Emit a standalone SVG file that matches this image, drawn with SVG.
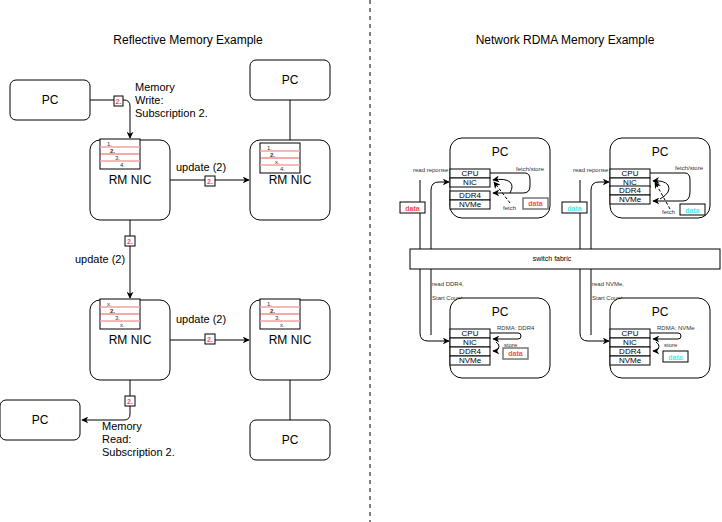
<svg xmlns="http://www.w3.org/2000/svg" width="722" height="522" viewBox="0 0 722 522">
<style>
text{font-family:"Liberation Sans",Arial,sans-serif;fill:#000}
.b{fill:#fff;stroke:#000;stroke-width:1}
.l{fill:none;stroke:#000;stroke-width:1}
.p{stroke:#f4a0a0;stroke-width:1.5}
.pr{stroke:#e85050;stroke-width:1}
.t12{font-size:12px}
.t11{font-size:11px}
.s{font-size:6px;fill:#333}
.c{font-size:8px}
.tag{fill:#fff;stroke:#000}
.tagt{font-size:7px;font-weight:bold;fill:#ff4d4d}
</style>
<defs>
<marker id="a" viewBox="0 0 10 10" refX="9" refY="5" markerWidth="7" markerHeight="7" orient="auto"><path d="M0,0L10,5L0,10L3,5z" fill="#000"/></marker>
</defs>
<line x1="370" y1="0" x2="370" y2="522" stroke="#000" stroke-dasharray="4,4"/>
<text x="188" y="44" text-anchor="middle" class="t12">Reflective Memory Example</text>
<text x="565" y="44" text-anchor="middle" class="t12">Network RDMA Memory Example</text>

<g id="connectors">
<path class="l" d="M90,100H124Q130,100 130,106V138" marker-end="url(#a)"/>
<path class="l" d="M170,180H249" marker-end="url(#a)"/>
<path class="l" d="M130,220V298" marker-end="url(#a)"/>
<path class="l" d="M170,340H249" marker-end="url(#a)"/>
<path class="l" d="M130,380V414Q130,420 124,420H82" marker-end="url(#a)"/>
<line class="l" x1="290" y1="100" x2="290" y2="140"/>
<line class="l" x1="290" y1="380" x2="290" y2="420"/>
<rect class="tag" x="114" y="96" width="9" height="10"/><text x="118.5" y="104" text-anchor="middle" class="tagt">2.</text>
<rect class="tag" x="205" y="176" width="10" height="10"/><text x="210" y="184" text-anchor="middle" class="tagt">2.</text>
<rect class="tag" x="125" y="236" width="10" height="10"/><text x="130" y="244" text-anchor="middle" class="tagt">2.</text>
<rect class="tag" x="205" y="334" width="10" height="10"/><text x="210" y="342" text-anchor="middle" class="tagt">2.</text>
<rect class="tag" x="125" y="396" width="10" height="10"/><text x="130" y="404" text-anchor="middle" class="tagt">2.</text>
<text x="135" y="91" class="t11">Memory</text><text x="135" y="104" class="t11">Write:</text><text x="135" y="117" class="t11">Subscription 2.</text>
<text x="176" y="171" class="t11">update (2)</text>
<text x="75" y="263" class="t11">update (2)</text>
<text x="176" y="323" class="t11">update (2)</text>
<text x="102" y="430" class="t11">Memory</text><text x="102" y="443" class="t11">Read:</text><text x="102" y="456" class="t11">Subscription 2.</text>

<!-- RDMA connectors -->
<path class="l" d="M431,335V190Q431,182 439,182H449" marker-end="url(#a)"/>
<path class="l" d="M420,180V333Q420,341 428,341H449" marker-end="url(#a)"/>
<path class="l" d="M591,335V190Q591,182 599,182H609" marker-end="url(#a)"/>
<path class="l" d="M580,180V333Q580,341 588,341H609" marker-end="url(#a)"/>
<text x="413" y="172" class="s">read reponse</text>
<text x="573" y="172" class="s">read reponse</text>
<text x="432" y="286" class="s">read DDR4,</text>
<text x="432" y="300" class="s">Start Count</text>
<text x="592" y="286" class="s">read NVMe,</text>
<text x="592" y="300" class="s">Start Count</text>
<rect x="400" y="202" width="25" height="11" class="tag"/><text x="412.5" y="210.5" text-anchor="middle" class="tagt">data</text>
<rect x="562" y="202" width="25" height="11" class="tag"/><text x="574.5" y="210.5" text-anchor="middle" class="tagt" style="fill:#4ee">data</text>
</g>

<g id="pc1"><rect class="b" x="10" y="80" width="80" height="40" rx="6"/><text x="50" y="104" text-anchor="middle" class="t12">PC</text></g>
<g id="pc2"><rect class="b" x="250" y="60" width="80" height="40" rx="6"/><text x="290" y="84" text-anchor="middle" class="t12">PC</text></g>
<g id="pc3"><rect class="b" x="0" y="400" width="80" height="40" rx="6"/><text x="40" y="424" text-anchor="middle" class="t12">PC</text></g>
<g id="pc4"><rect class="b" x="250" y="420" width="80" height="40" rx="6"/><text x="290" y="444" text-anchor="middle" class="t12">PC</text></g>

<g id="rm1"><rect class="b" x="90" y="140" width="80" height="80" rx="10"/>
<rect class="b" x="100" y="139" width="40" height="30"/>
<line class="p" x1="100" y1="147" x2="140" y2="147"/><line class="pr" x1="100" y1="154" x2="140" y2="154"/><line class="p" x1="100" y1="161" x2="140" y2="161"/>
<text x="107" y="146" class="s">1.</text><text x="110" y="153" class="s" style="font-weight:bold">2.</text><text x="115" y="160" class="s">3.</text><text x="120" y="167" class="s">4.</text>
<text x="130" y="184" text-anchor="middle" class="t12">RM NIC</text></g>
<g id="rm2"><rect class="b" x="250" y="140" width="80" height="80" rx="10"/>
<rect class="b" x="260" y="143" width="40" height="30"/>
<line class="p" x1="260" y1="151" x2="300" y2="151"/><line class="pr" x1="260" y1="158" x2="300" y2="158"/><line class="p" x1="260" y1="165" x2="300" y2="165"/>
<text x="267" y="150" class="s">1.</text><text x="270" y="157" class="s" style="font-weight:bold">2.</text><text x="275" y="164" class="s">x.</text><text x="280" y="171" class="s">4.</text>
<text x="290" y="184" text-anchor="middle" class="t12">RM NIC</text></g>
<g id="rm3"><rect class="b" x="90" y="300" width="80" height="80" rx="10"/>
<rect class="b" x="100" y="299" width="40" height="30"/>
<line class="p" x1="100" y1="307" x2="140" y2="307"/><line class="pr" x1="100" y1="314" x2="140" y2="314"/><line class="p" x1="100" y1="321" x2="140" y2="321"/>
<text x="107" y="306" class="s">x.</text><text x="110" y="313" class="s" style="font-weight:bold">2.</text><text x="115" y="320" class="s">3.</text><text x="120" y="327" class="s">x.</text>
<text x="130" y="344" text-anchor="middle" class="t12">RM NIC</text></g>
<g id="rm4"><rect class="b" x="250" y="300" width="80" height="80" rx="10"/>
<rect class="b" x="260" y="299" width="40" height="30"/>
<line class="p" x1="260" y1="307" x2="300" y2="307"/><line class="pr" x1="260" y1="314" x2="300" y2="314"/><line class="p" x1="260" y1="321" x2="300" y2="321"/>
<text x="267" y="306" class="s">1.</text><text x="270" y="313" class="s" style="font-weight:bold">2.</text><text x="275" y="320" class="s">3.</text><text x="280" y="327" class="s">x.</text>
<text x="290" y="344" text-anchor="middle" class="t12">RM NIC</text></g>

<g id="switch"><rect class="b" x="410" y="249" width="310" height="20"/><text x="552" y="261" text-anchor="middle" style="font-size:7px">switch fabric</text></g>

<g id="pcA"><rect class="b" x="450" y="138" width="100" height="80" rx="12"/><text x="500" y="156" text-anchor="middle" class="t12">PC</text>
<rect class="b" x="450" y="169" width="40" height="9"/><text x="470" y="176" text-anchor="middle" class="c">CPU</text>
<rect class="b" x="450" y="178" width="40" height="9"/><text x="470" y="185" text-anchor="middle" class="c">NIC</text>
<rect class="b" x="450" y="191" width="40" height="9"/><text x="470" y="198" text-anchor="middle" class="c">DDR4</text>
<rect class="b" x="450" y="200" width="40" height="9"/><text x="470" y="207" text-anchor="middle" class="c">NVMe</text>
<path class="l" d="M490,173H525Q530,173 530,180V186Q530,193 523,193H493" marker-end="url(#a)"/>
<path class="l" d="M510,193Q514,186 510,182Q505,178 493,180" marker-end="url(#a)"/>
<path class="l" d="M510,203L494,182" stroke-dasharray="3,2" marker-end="url(#a)"/>
<text x="516" y="171" class="s">fetch/store</text><text x="503" y="210" class="s">fetch</text>
<rect x="523" y="198" width="25" height="11" fill="#fff" stroke="#777" stroke-width="1.5"/><text x="535.5" y="206" text-anchor="middle" class="tagt">data</text></g>

<g id="pcB"><rect class="b" x="610" y="138" width="100" height="80" rx="12"/><text x="660" y="156" text-anchor="middle" class="t12">PC</text>
<rect class="b" x="610" y="169" width="40" height="9"/><text x="630" y="176" text-anchor="middle" class="c">CPU</text>
<rect class="b" x="610" y="178" width="40" height="9"/><text x="630" y="185" text-anchor="middle" class="c">NIC</text>
<rect class="b" x="610" y="186" width="40" height="9"/><text x="630" y="193" text-anchor="middle" class="c">DDR4</text>
<rect class="b" x="610" y="195" width="40" height="9"/><text x="630" y="202" text-anchor="middle" class="c">NVMe</text>
<path class="l" d="M650,173H685Q690,173 690,180V192Q690,201 683,201H653" marker-end="url(#a)"/>
<path class="l" d="M660,199Q672,192 668,185Q664,180 653,181" marker-end="url(#a)"/>
<path class="l" d="M670,209L655,182" stroke-dasharray="3,2" marker-end="url(#a)"/>
<text x="675" y="170" class="s">fetch/store</text><text x="662" y="214" class="s">fetch</text>
<rect x="680" y="204" width="25" height="11" fill="#fff" stroke="#000"/><text x="692.5" y="212.5" text-anchor="middle" class="tagt" style="fill:#4ee">data</text></g>

<g id="pcC"><rect class="b" x="450" y="298" width="100" height="80" rx="12"/><text x="500" y="316" text-anchor="middle" class="t12">PC</text>
<rect class="b" x="450" y="329" width="40" height="9"/><text x="470" y="336" text-anchor="middle" class="c">CPU</text>
<rect class="b" x="450" y="338" width="40" height="9"/><text x="470" y="345" text-anchor="middle" class="c">NIC</text>
<rect class="b" x="450" y="347" width="40" height="9"/><text x="470" y="354" text-anchor="middle" class="c">DDR4</text>
<rect class="b" x="450" y="356" width="40" height="9"/><text x="470" y="363" text-anchor="middle" class="c">NVMe</text>
<path class="l" d="M490,333H518Q521,333 521,336Q521,339 518,339H493" marker-end="url(#a)"/>
<path class="l" d="M496,342Q502,346 496,351H493" marker-end="url(#a)"/>
<text x="497" y="330" class="s">RDMA: DDR4</text><text x="504" y="347" class="s">store</text>
<rect x="503" y="348" width="25" height="11" fill="#fff" stroke="#777" stroke-width="1.5"/><text x="515.5" y="356" text-anchor="middle" class="tagt">data</text></g>

<g id="pcD"><rect class="b" x="610" y="298" width="100" height="80" rx="12"/><text x="660" y="316" text-anchor="middle" class="t12">PC</text>
<rect class="b" x="610" y="329" width="40" height="9"/><text x="630" y="336" text-anchor="middle" class="c">CPU</text>
<rect class="b" x="610" y="338" width="40" height="9"/><text x="630" y="345" text-anchor="middle" class="c">NIC</text>
<rect class="b" x="610" y="347" width="40" height="9"/><text x="630" y="354" text-anchor="middle" class="c">DDR4</text>
<rect class="b" x="610" y="356" width="40" height="9"/><text x="630" y="363" text-anchor="middle" class="c">NVMe</text>
<path class="l" d="M650,333H678Q681,333 681,336Q681,339 678,339H653" marker-end="url(#a)"/>
<path class="l" d="M656,342Q662,346 656,351H653" marker-end="url(#a)"/>
<text x="657" y="330" class="s">RDMA: NVMe</text><text x="664" y="347" class="s">store</text>
<rect x="663" y="351" width="25" height="11" fill="#fff" stroke="#000"/><text x="675.5" y="359.5" text-anchor="middle" class="tagt" style="fill:#4ee">data</text></g>
</svg>
